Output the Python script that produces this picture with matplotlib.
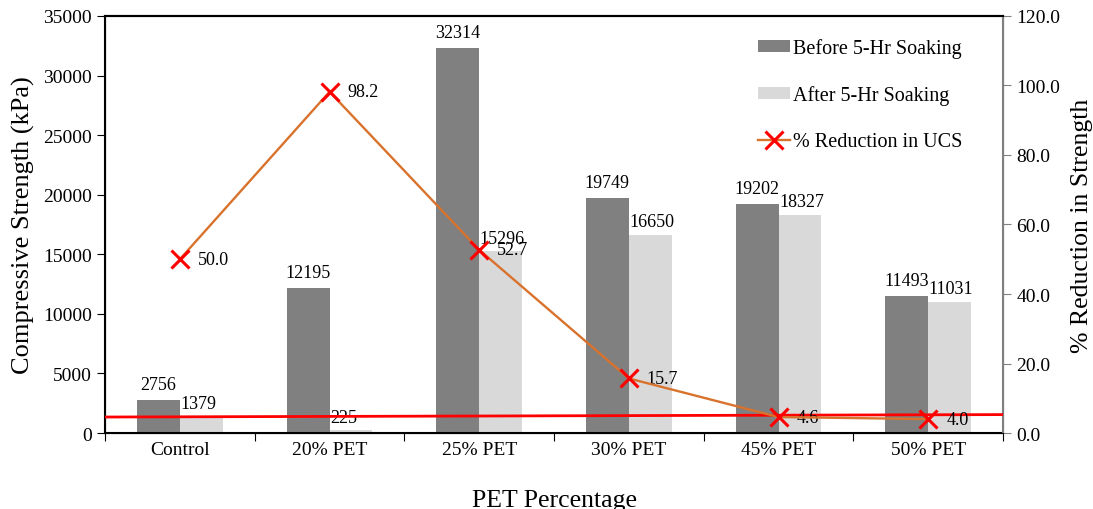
#!/usr/bin/env python3
# -*- coding: utf-8 -*-
"""
Compressive strength before/after soaking vs PET percentage
"""

import numpy as np
import matplotlib.pyplot as plt

plt.rcParams['font.family'] = ['Liberation Serif', 'DejaVu Serif']

categories = ['Control', '20% PET', '25% PET', '30% PET', '45% PET', '50% PET']
before = [2756, 12195, 32314, 19749, 19202, 11493]
after = [1379, 225, 15296, 16650, 18327, 11031]
reduction = [50.0, 98.2, 52.7, 15.7, 4.6, 4.0]
# red reference line (right axis), ends at plot edges
ref_line = [4.6, 5.3]

fig = plt.figure(figsize=(10.93, 5.10), dpi=100)
ax = fig.add_axes([0.0961, 0.149, 0.8216, 0.8177])
ax2 = ax.twinx()

x = np.arange(len(categories))
w = 0.287
ax.bar(x - w / 2, before, w, color='#808080', label='Before 5-Hr Soaking', zorder=2)
ax.bar(x + w / 2, after, w, color='#d9d9d9', label='After 5-Hr Soaking', zorder=2)

for i in range(len(x)):
    ax.text(x[i] - w / 2, before[i] + 600, str(before[i]), ha='center', va='bottom', fontsize=13)
    ax.text(x[i] + w / 2 - 0.14, after[i] + 350, str(after[i]), ha='left', va='bottom', fontsize=13)

ax.set_xlim(-0.5, 5.5)
ax.set_ylim(0, 35000)
ax.set_yticks(np.arange(0, 35001, 5000))
ax.set_xticks(np.arange(-0.5, 5.6, 1.0), minor=False)
ax.set_xticklabels([])
ax.set_xticks(x, minor=True)
ax.set_xticklabels(categories, minor=True)
ax.tick_params(axis='x', which='minor', length=0, labelsize=14, pad=6)
ax.tick_params(axis='x', which='major', length=6, direction='out')
ax.tick_params(axis='y', labelsize=14, length=6, direction='out')
ax.set_ylabel('Compressive Strength (kPa)', fontsize=19, labelpad=6)
ax.set_xlabel('PET Percentage', fontsize=18.5, labelpad=22)

ax2.plot(x, reduction, color='#d8722c', lw=1.7, marker='x', ms=13, mew=2.2,
         mec='red', label='% Reduction in UCS', zorder=4)
ax2.plot([-0.5, 5.5], ref_line, color='red', lw=2, zorder=3)
for i in range(len(x)):
    ax2.text(x[i] + 0.12, reduction[i], '%.1f' % reduction[i], ha='left', va='center', fontsize=13)

ax2.set_ylim(0, 120)
ax2.set_yticks(np.arange(0, 121, 20))
ax2.set_yticklabels(['%.1f' % v for v in np.arange(0, 121, 20)])
ax2.tick_params(axis='y', labelsize=14, length=6, direction='out', color='#808080')
ax2.set_ylabel('% Reduction in Strength', fontsize=18.5, labelpad=8)

for s in ['left', 'bottom', 'top']:
    ax.spines[s].set_color('black')
    ax.spines[s].set_linewidth(1.5)
ax2.spines['right'].set_color('#808080')
ax2.spines['right'].set_linewidth(1.5)
ax2.spines['top'].set_linewidth(1.5)

h1, l1 = ax.get_legend_handles_labels()
h2, l2 = ax2.get_legend_handles_labels()
ax2.legend(h1 + h2[:1], l1 + l2[:1], loc='upper right', bbox_to_anchor=(0.975, 0.99),
           frameon=False, fontsize=14.5, labelspacing=1.35, handlelength=1.6,
           handletextpad=0.15, handleheight=0.55)

fig.savefig('out.png', dpi=100)
